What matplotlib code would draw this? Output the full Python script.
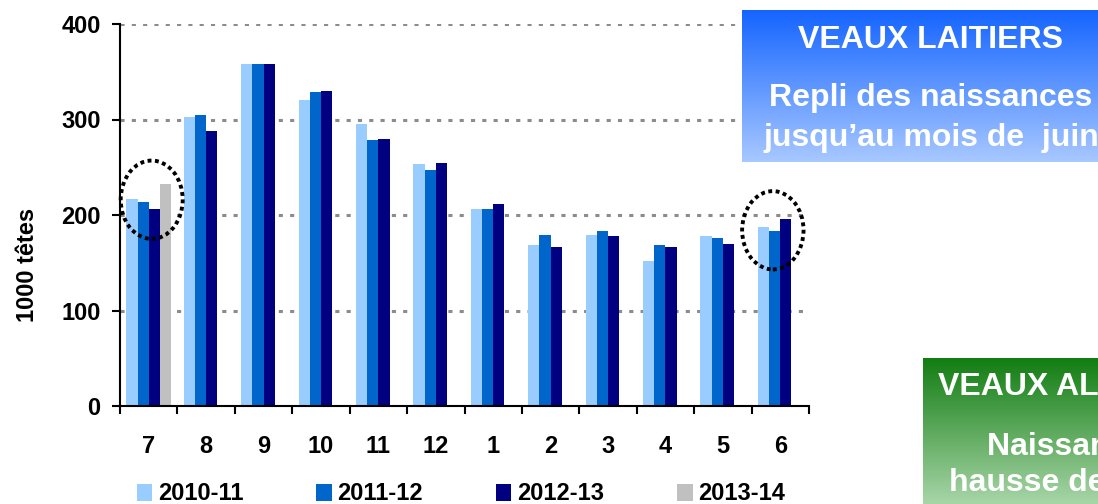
import matplotlib
matplotlib.use("Agg")
import matplotlib.pyplot as plt
import numpy as np
from matplotlib.patches import Ellipse
from matplotlib.colors import LinearSegmentedColormap

plt.rcParams['font.family'] = ['Liberation Sans', 'DejaVu Sans']
plt.rcParams['font.weight'] = 'bold'

months = ["7", "8", "9", "10", "11", "12", "1", "2", "3", "4", "5", "6"]
s_2010_11 = [217, 303, 358, 320, 295, 253, 206, 169, 179, 152, 178, 187]
s_2011_12 = [214, 305, 358, 329, 279, 247, 206, 179, 183, 169, 176, 183]
s_2012_13 = [206, 288, 358, 330, 280, 254, 211, 166, 178, 166, 170, 196]
s_2013_14 = [232]
series_names = ["2010-11", "2011-12", "2012-13", "2013-14"]
colors = ["#99CCFF", "#0066CC", "#000080", "#C0C0C0"]

W, H = 1098, 504
fig = plt.figure(figsize=(W / 100, H / 100), dpi=100)
ax = fig.add_axes([120 / W, 98 / H, 689 / W, 382 / H])

x = np.arange(len(months))
bw = 0.195
all_series = [s_2010_11, s_2011_12, s_2012_13, s_2013_14]
handles = []
for i, (vals, col, name) in enumerate(zip(all_series, colors, series_names)):
    xs = x[:len(vals)] + (i - 1.5) * bw
    b = ax.bar(xs, vals, width=bw, color=col, label=name, zorder=2, linewidth=0)
    handles.append(b)

ax.set_xlim(-0.5, len(months) - 0.5)
ax.set_ylim(0, 400)
ax.set_yticks([0, 100, 200, 300, 400])
ax.set_xticks(x)
ax.set_xticklabels(months)
ax.set_xticks(np.arange(-0.5, len(months), 1), minor=True)
ax.tick_params(axis='x', which='major', length=0, pad=21, labelsize=17)
ax.tick_params(axis='x', which='minor', length=6, width=1.5, direction='out')
ax.tick_params(axis='y', length=6, width=1.5, direction='out', pad=8, labelsize=17)
for lab in ax.get_xticklabels() + ax.get_yticklabels():
    lab.set_fontweight('bold')

ax.spines['top'].set_visible(False)
ax.spines['right'].set_visible(False)
ax.spines['left'].set_linewidth(1.5)
ax.spines['bottom'].set_linewidth(1.5)
ax.set_axisbelow(True)
ax.yaxis.grid(True, color='#8C8C8C', linestyle=(0, (1.35, 2.35)), linewidth=2.2)
for gl in ax.yaxis.get_gridlines()[:1]:
    gl.set_visible(False)

# dotted ellipses
for (cx, cy, ew, eh) in [(0.052, 216, 1.08, 82), (10.87, 184, 1.07, 82)]:
    e = Ellipse((cx, cy), ew, eh, fill=False, edgecolor='black', linewidth=2.8,
                linestyle=(0, (1, 0.9)), zorder=5, clip_on=False)
    ax.add_patch(e)

fig.text(27 / W, (504 - 265) / H, "1000 têtes", rotation=90, ha='center', va='center',
         fontsize=17, fontweight='bold')

fig.legend(handles=handles, labels=series_names, loc='center', ncol=4,
           bbox_to_anchor=(461 / W, 10 / H), frameon=False,
           prop={'size': 17, 'weight': 'bold'}, handlelength=0.64, handleheight=0.7,
           handletextpad=0.25, columnspacing=3.1, borderpad=0, borderaxespad=0)

def grad_box(x0, y_top, w, h, top_col, bot_col):
    bax = fig.add_axes([x0 / W, (H - y_top - h) / H, w / W, h / H], zorder=10)
    cmap = LinearSegmentedColormap.from_list('g', [bot_col, top_col])
    grad = np.linspace(0, 1, 256).reshape(-1, 1)
    bax.imshow(grad, cmap=cmap, aspect='auto', extent=[0, 1, 0, 1], origin='lower')
    bax.set_xlim(0, 1)
    bax.set_ylim(0, 1)
    bax.axis('off')
    return bax

bx = grad_box(742, 10, 378, 152, '#1464FF', '#A8C8FF')
bx.text(0.5, 0.80, "VEAUX LAITIERS", color='white', fontsize=23, fontweight='bold',
        ha='center', va='center', clip_on=False)
bx.text(0.5, 0.42, "Repli des naissances", color='white', fontsize=23, fontweight='bold',
        ha='center', va='center', clip_on=False)
bx.text(0.5, 0.16, "jusqu’au mois de  juin", color='white', fontsize=23, fontweight='bold',
        ha='center', va='center', clip_on=False)

gx = grad_box(923, 358, 378, 146, '#127D12', '#A8D5A8')
gw, gh = 378, 146
gx.text((938 - 923) / gw, 1 - (386.7 - 358) / gh, "VEAUX ALLAITANTS", color='white',
        fontsize=23, fontweight='bold', ha='left', va='center', clip_on=False)
gx.text((987 - 923) / gw, 1 - (446.7 - 358) / gh, "Naissances en", color='white',
        fontsize=23, fontweight='bold', ha='left', va='center', clip_on=False)
gx.text((949 - 923) / gw, 1 - (483.3 - 358) / gh, "hausse depuis", color='white',
        fontsize=23, fontweight='bold', ha='left', va='center', clip_on=False)

fig.savefig("out.png", dpi=100)
